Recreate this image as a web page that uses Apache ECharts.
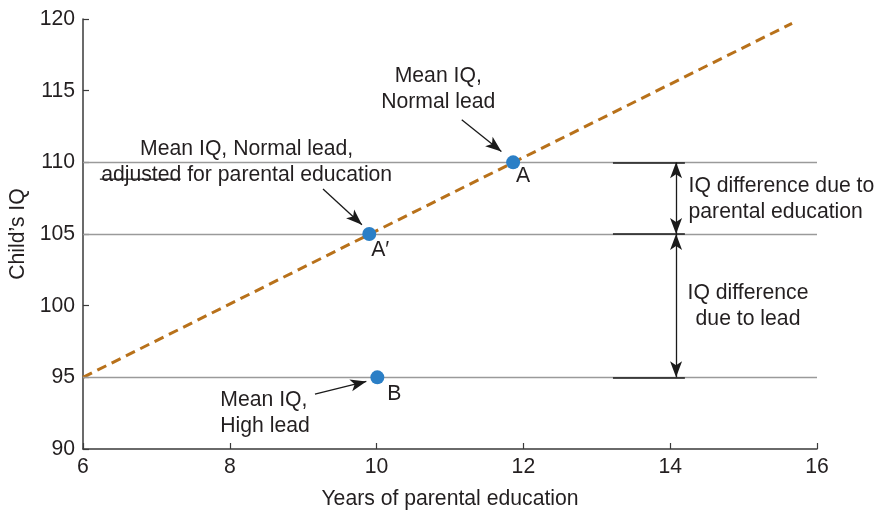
<!DOCTYPE html>
<html><head><meta charset="utf-8">
<script src="https://cdn.jsdelivr.net/npm/echarts/dist/echarts.min.js"></script>
<style>html,body{margin:0;padding:0;background:#fff}#c{width:876px;height:513px}</style>
</head><body><div id="c"></div>
<script>
// ---- data ----
const xTickValues = [6, 8, 10, 12, 14, 16];
const yTickValues = [90, 95, 100, 105, 110, 115, 120];
const trendX = [6, 15.66];
const trendY = [95, 119.7];
const pointNames = ['A', 'A\u2032', 'B'];
const pointX = [11.86, 9.9, 10.01];
const pointY = [110, 105, 95];
const referenceLevels = [110, 105, 95];
const bracketX = [13.22, 14.2];
const differenceArrowX = 14.08;
const noteTexts = [
  'Mean IQ,\nNormal lead',
  'Mean IQ, Normal lead,\nadjusted for parental education',
  'IQ difference due to\nparental education',
  'IQ difference\ndue to lead',
  'Mean IQ,\nHigh lead'
];
const noteX = [10.84, 8.23, 14.25, 15.06, 7.87];
const noteY = [115.09, 110.04, 107.45, 99.94, 92.5];
const noteAlign = ['center', 'center', 'left', 'center', 'left'];
// pointer arrows: from -> to
const pointerFromX = [11.16, 9.27, 9.16];
const pointerFromY = [112.97, 108.14, 93.83];
const pointerToX = [11.70, 9.80, 9.86];
const pointerToY = [110.76, 105.65, 94.71];
const underlineX = [6.23, 7.33];
const underlineY = 108.83;

// ---- styles ----
const FONT = "'Liberation Sans', Arial, Helvetica, sans-serif";
const FS = 21.2;
const TXT = '#231f20';
const labelOffsets = [[10, 14], [11, 16], [17, 17]];

const chart = echarts.init(document.getElementById('c'), null, {renderer: 'canvas'});

const refLineData = referenceLevels.map(v => ({yAxis: v}));
const bracketData = referenceLevels.map(v => [{coord: [bracketX[0], v]}, {coord: [bracketX[1], v]}]);
const diffArrows = [
  [{coord: [differenceArrowX, referenceLevels[0]]}, {coord: [differenceArrowX, referenceLevels[1]]}],
  [{coord: [differenceArrowX, referenceLevels[1]]}, {coord: [differenceArrowX, referenceLevels[2]]}]
];
const pointerData = pointerFromX.map((x, i) => [{coord: [x, pointerFromY[i]]}, {coord: [pointerToX[i], pointerToY[i]]}]);

const option = {
  animation: false,
  backgroundColor: '#fff',
  textStyle: {fontFamily: FONT},
  grid: {left: 83, right: 59, top: 19, bottom: 64, containLabel: false, outerBoundsMode: 'none'},
  xAxis: {
    type: 'value', min: 6, max: 16, interval: 2,
    name: 'Years of parental education', nameLocation: 'middle', nameGap: 40,
    nameTextStyle: {fontSize: FS, color: TXT, fontFamily: FONT},
    axisLine: {show: true, onZero: false, lineStyle: {color: '#3a3a3a', width: 1.5}},
    axisTick: {show: true, inside: true, length: 6, lineStyle: {color: '#3a3a3a', width: 1.2}},
    axisLabel: {fontSize: FS, color: TXT, margin: 8, fontFamily: FONT},
    splitLine: {show: false}
  },
  yAxis: {
    type: 'value', min: 90, max: 120, interval: 5,
    name: "Child\u2019s IQ", nameLocation: 'middle', nameGap: 54, nameRotate: 90,
    nameTextStyle: {fontSize: FS, color: TXT, fontFamily: FONT},
    axisLine: {show: true, onZero: false, lineStyle: {color: '#3a3a3a', width: 1.5}},
    axisTick: {show: true, inside: true, length: 6, lineStyle: {color: '#3a3a3a', width: 1.2}},
    axisLabel: {fontSize: FS, color: TXT, margin: 8, fontFamily: FONT},
    splitLine: {show: false}
  },
  series: [
    {
      type: 'line', name: 'levels', data: [], silent: true,
      markLine: {
        silent: true, symbol: 'none', label: {show: false},
        lineStyle: {color: '#9a9a9a', width: 1.3, type: 'solid'},
        data: refLineData
      }
    },
    {
      type: 'line', name: 'brackets', data: [], silent: true,
      markLine: {
        silent: true, symbol: 'none', label: {show: false},
        lineStyle: {color: '#1a1a1a', width: 1.6, type: 'solid'},
        data: bracketData
      }
    },
    {
      type: 'line', name: 'trend', silent: true,
      data: trendX.map((x, i) => [x, trendY[i]]),
      symbol: 'none',
      lineStyle: {color: '#b8711a', width: 3, type: [10, 6]},
      z: 3
    },
    {
      type: 'line', name: 'diff', data: [], silent: true,
      markLine: {
        silent: true, symbol: ['arrow', 'arrow'], symbolSize: [9, 16], label: {show: false},
        lineStyle: {color: '#1a1a1a', width: 1.3, type: 'solid'},
        itemStyle: {color: '#1a1a1a'},
        data: diffArrows
      }
    },
    {
      type: 'line', name: 'pointers', data: [], silent: true,
      markLine: {
        silent: true, symbol: ['none', 'arrow'], symbolSize: [9, 16], label: {show: false},
        lineStyle: {color: '#1a1a1a', width: 1.3, type: 'solid'},
        itemStyle: {color: '#1a1a1a'},
        data: pointerData
      }
    },
    {
      type: 'line', name: 'underline', silent: true, symbol: 'none',
      data: underlineX.map(x => [x, underlineY]),
      lineStyle: {color: TXT, width: 1.2}
    },
    {
      type: 'scatter', name: 'points', silent: true, z: 5,
      symbolSize: 14,
      itemStyle: {color: '#2b7fc6', opacity: 1},
      data: pointX.map((x, i) => ({
        value: [x, pointY[i]],
        label: {
          show: true, formatter: pointNames[i], position: 'inside',
          offset: labelOffsets[i], align: 'center', verticalAlign: 'middle',
          fontSize: FS, color: TXT, fontFamily: FONT
        }
      }))
    },
    {
      type: 'scatter', name: 'notes', silent: true, z: 6,
      symbolSize: 0,
      itemStyle: {opacity: 1},
      data: noteX.map((x, i) => ({
        value: [x, noteY[i]],
        label: {
          show: true, formatter: noteTexts[i], position: 'inside',
          align: noteAlign[i], verticalAlign: 'middle',
          fontSize: FS, lineHeight: 26, color: TXT, fontFamily: FONT
        }
      }))
    }
  ]
};
chart.setOption(option);
</script></body></html>
